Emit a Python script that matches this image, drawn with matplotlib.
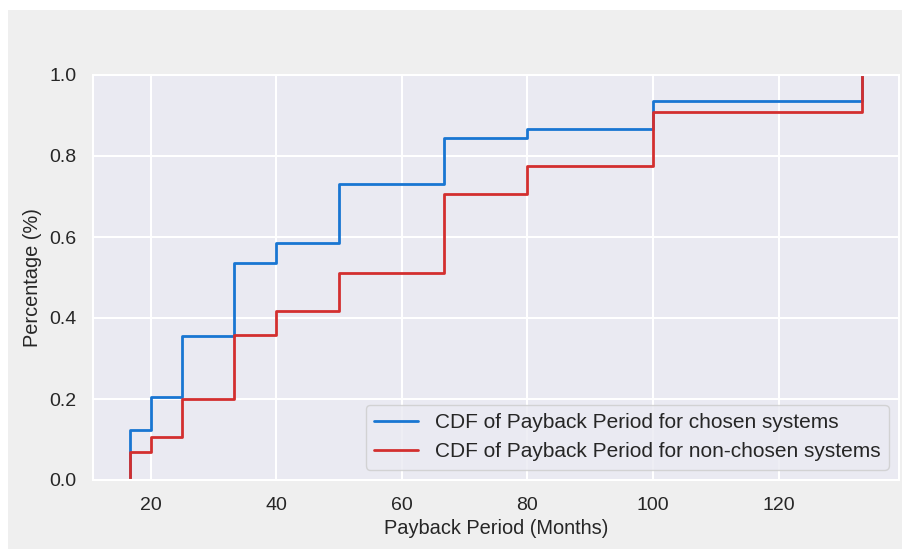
import numpy as np
import matplotlib
matplotlib.use("Agg")
import matplotlib.pyplot as plt
import seaborn as sns
from matplotlib.patches import Rectangle

# Data
payback_months = [16.67, 20, 25, 33.33, 40, 50, 66.67, 80, 100, 133.33]
cdf_chosen = [0.123, 0.206, 0.356, 0.535, 0.584, 0.730, 0.844, 0.866, 0.935, 1.0]
cdf_non_chosen = [0.069, 0.107, 0.200, 0.358, 0.418, 0.510, 0.706, 0.776, 0.909, 1.0]
label_chosen = "CDF of Payback Period for chosen systems"
label_non_chosen = "CDF of Payback Period for non-chosen systems"
x_ticks = [20, 40, 60, 80, 100, 120]
y_ticks = [0.0, 0.2, 0.4, 0.6, 0.8, 1.0]

sns.set_theme(style="darkgrid")
plt.rcParams['font.family'] = ['Liberation Sans', 'DejaVu Sans']
plt.rcParams['text.color'] = '.15'
plt.rcParams['axes.labelcolor'] = '.15'
plt.rcParams['xtick.color'] = '.15'
plt.rcParams['ytick.color'] = '.15'

fig = plt.figure(figsize=(9.03, 5.49), dpi=100, facecolor='white')
fig.patches.append(Rectangle((8 / 903, 0), 1 - 8 / 903, 1 - 10 / 549,
                             transform=fig.transFigure, facecolor='#efefef',
                             edgecolor='none', zorder=-10))
ax = fig.add_axes([93 / 903, 69 / 549, (899 - 93) / 903, (480 - 75) / 549])
ax.set_facecolor('#eaeaf2')

x_start = payback_months[0]
ax.step([x_start] + payback_months, [0.0] + cdf_chosen, where='post',
        color='#1976D2', linewidth=2, label=label_chosen)
ax.step([x_start] + payback_months, [0.0] + cdf_non_chosen, where='post',
        color='#D32F2F', linewidth=2, label=label_non_chosen)

span = payback_months[-1] - payback_months[0]
ax.set_xlim(payback_months[0] - 0.05 * span, payback_months[-1] + 0.05 * span)
ax.set_ylim(0, 1)
ax.set_xticks(x_ticks)
ax.set_yticks(y_ticks)
ax.set_yticklabels([f"{v:.1f}" for v in y_ticks])
ax.tick_params(axis='both', labelsize=14)
ax.tick_params(axis='x', pad=6.5)
ax.tick_params(axis='y', pad=6)
ax.set_xlabel("Payback Period (Months)", fontsize=14.4, labelpad=3)
ax.set_ylabel("Percentage (%)", fontsize=14.4, labelpad=5)
for s in ax.spines.values():
    s.set_color('white')
    s.set_linewidth(1.5)
ax.grid(color='white', linewidth=1.5)

leg = ax.legend(loc='lower right', fontsize=15, frameon=True, fancybox=True,
                borderaxespad=0.5, handlelength=2.1)
leg.get_frame().set_edgecolor('#cccccc')
leg.get_frame().set_facecolor('#eaeaf2')

fig.savefig("out.png", dpi=100, facecolor=fig.get_facecolor())
